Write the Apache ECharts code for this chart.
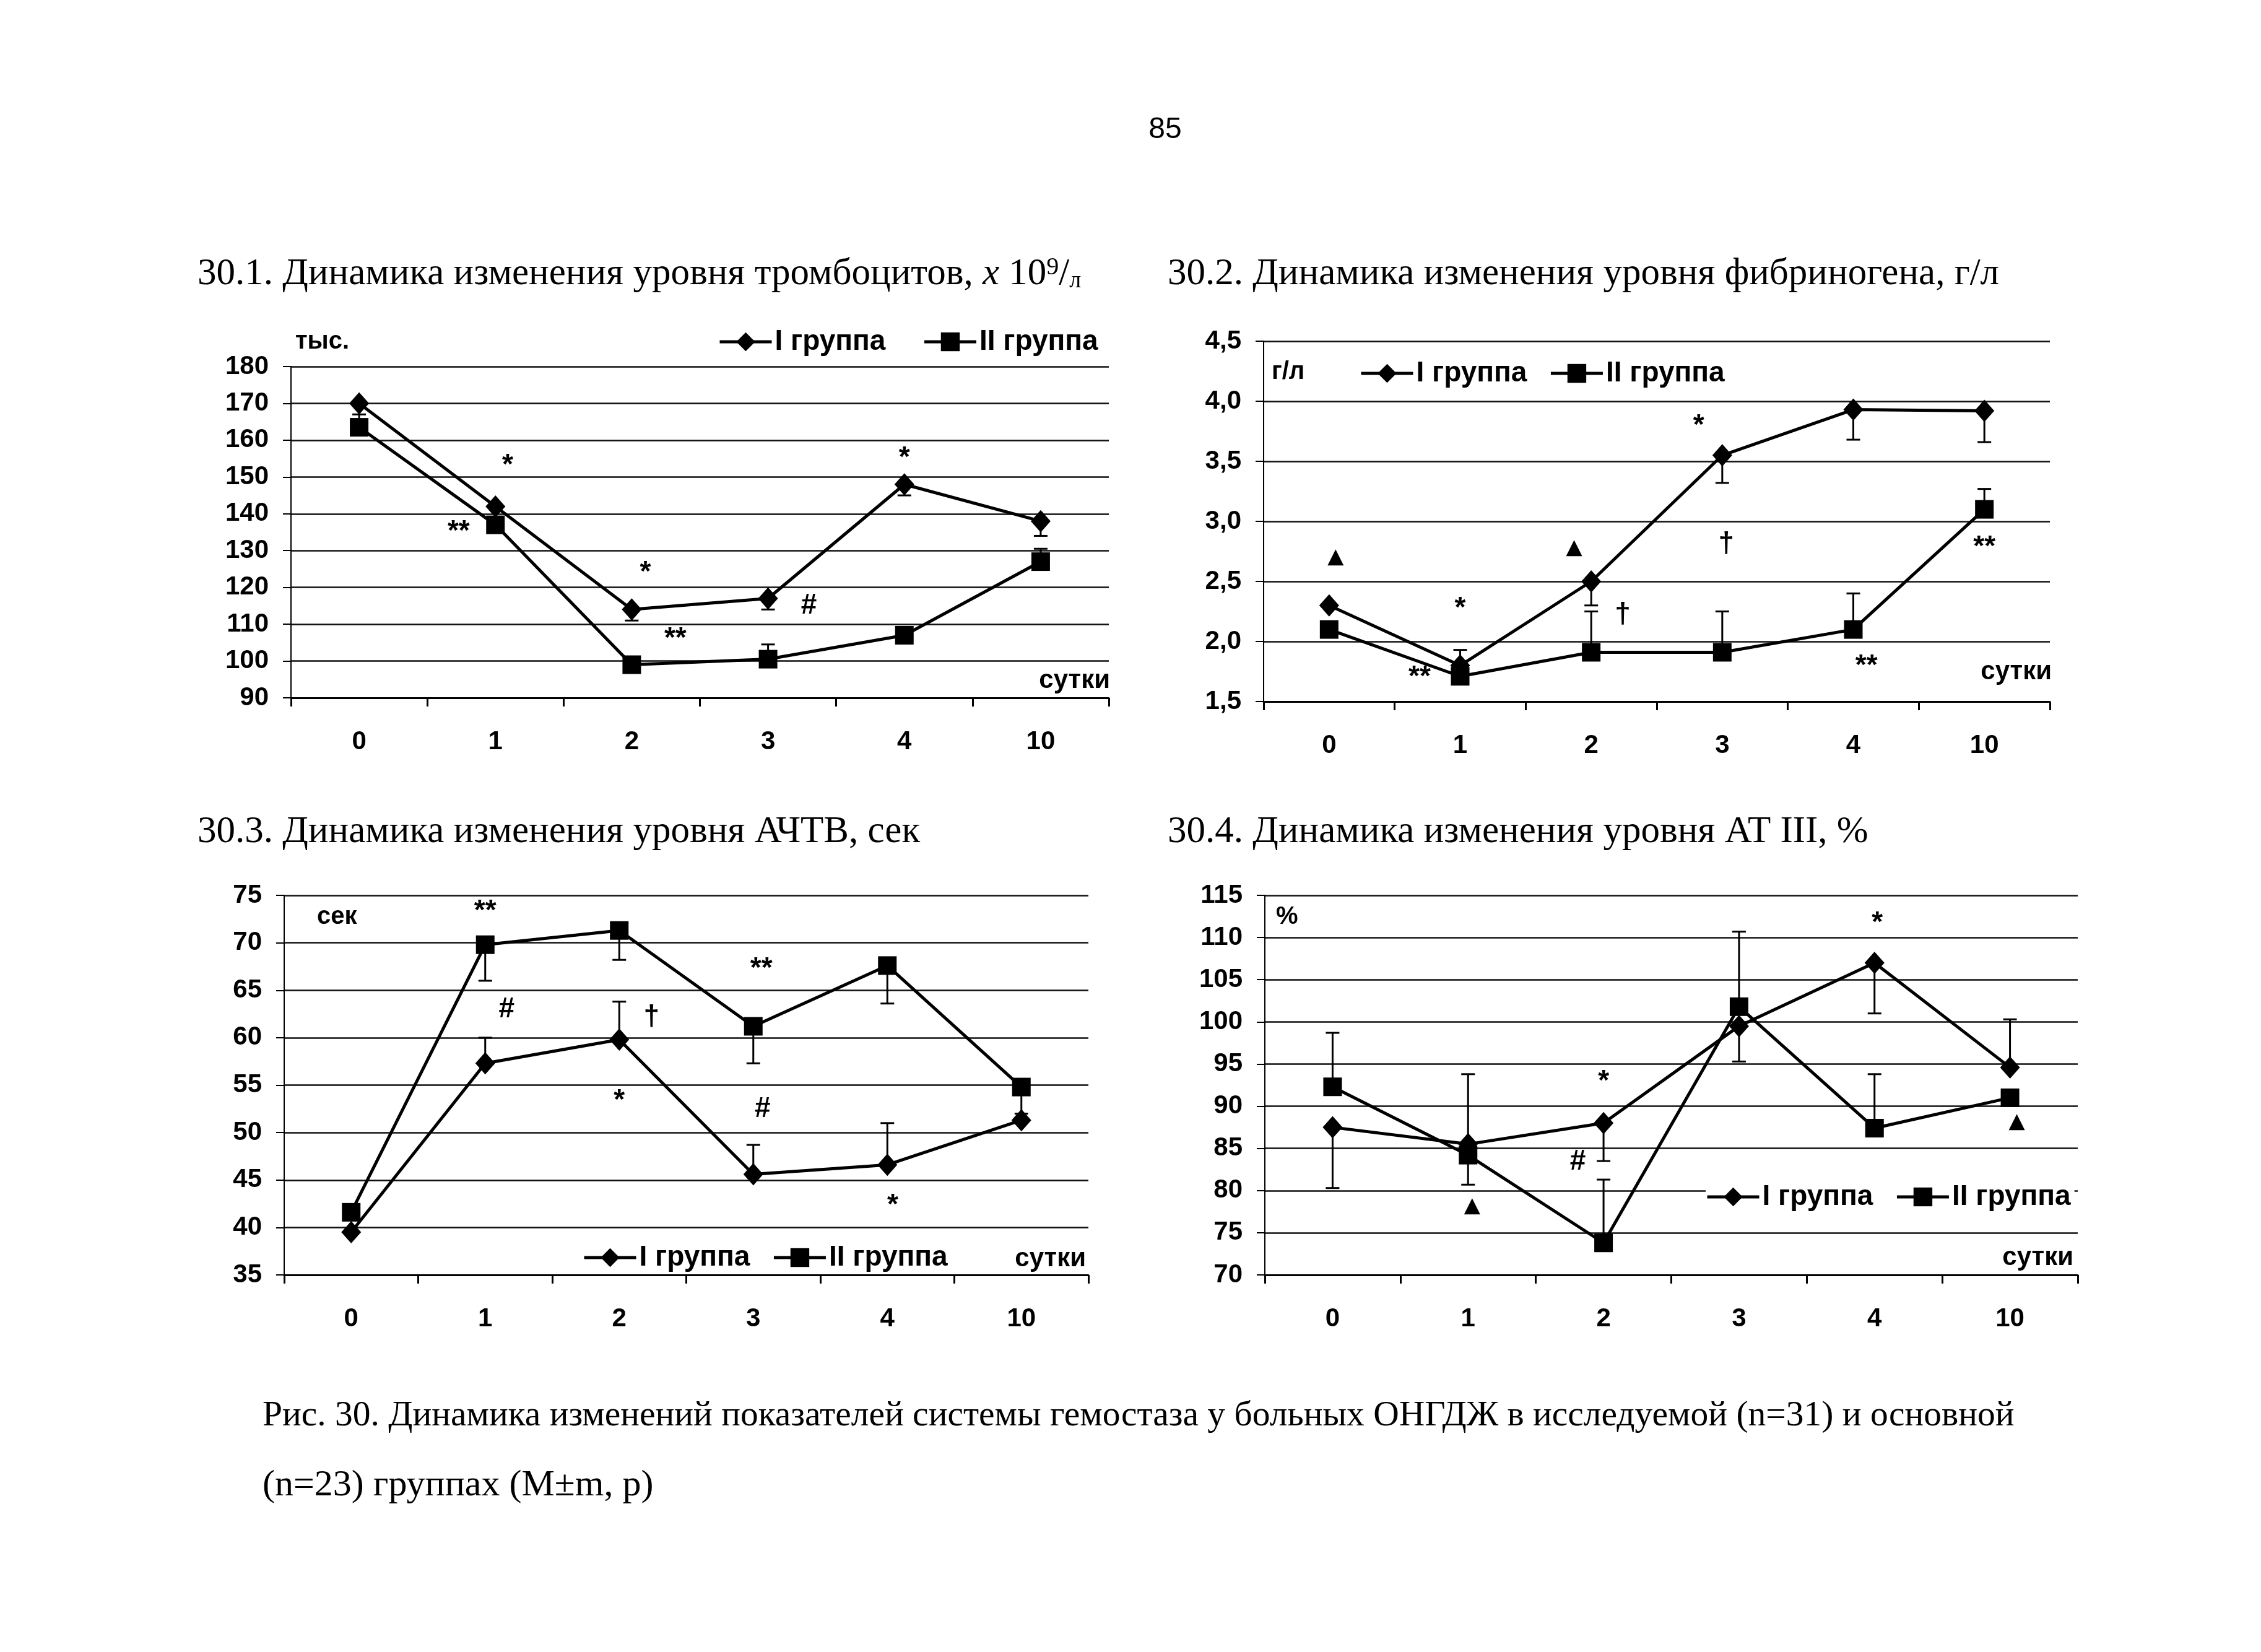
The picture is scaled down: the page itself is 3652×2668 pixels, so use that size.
<!DOCTYPE html>
<html><head><meta charset="utf-8">
<script src="https://cdn.jsdelivr.net/npm/echarts@6/dist/echarts.min.js"></script>
<style>html,body{margin:0;padding:0;background:#fff}#c{width:3652px;height:2668px}</style>
</head><body><div id="c"></div>
<script>
// ---- data ----
const days = ['0', '1', '2', '3', '4', '10'];
const groupNames = ['I группа', 'II группа'];

const plateletsI  = [170, 142, 114, 117, 148, 138];
const plateletsII = [163.5, 137, 99, 100.5, 107, 127];
const fibrinogenI  = [2.3, 1.8, 2.5, 3.55, 3.93, 3.92];
const fibrinogenII = [2.1, 1.71, 1.91, 1.91, 2.1, 3.1];
const apttI  = [39.5, 57.3, 59.8, 45.6, 46.6, 51.3];
const apttII = [41.6, 69.8, 71.3, 61.2, 67.6, 54.8];
const at3I  = [87.5, 85.5, 88, 99.5, 107, 94.6];
const at3II = [92.3, 84.2, 73.8, 101.8, 87.4, 91];

// error bars: [day index, mean, bar end]
const plateletsErr = [[0,163.5,167],[2,114,111],[3,117,114],[4,148,145],[5,138,134],[3,100.5,104.5],[5,127,130.5]];
const fibrinogenErr = [[1,1.8,1.93],[2,2.5,2.3],[3,3.55,3.32],[4,3.93,3.68],[5,3.92,3.66],[2,1.91,2.25],[3,1.91,2.25],[4,2.1,2.4],[5,3.1,3.27]];
const apttErr = [[1,57.3,60],[2,59.8,63.8],[3,45.6,48.7],[4,46.6,51],[1,69.8,66],[2,71.3,68.2],[3,61.2,57.3],[4,67.6,63.6],[5,54.8,52]];
const at3Err = [[0,92.3,98.7],[0,87.5,80.3],[1,85.5,93.8],[1,84.2,80.7],[2,88,83.5],[2,73.8,81.3],[3,101.8,110.7],[3,99.5,95.3],[4,107,101],[4,87.4,93.8],[5,94.6,100.3]];

// significance marks: [day index, value, mark, offset in category widths]
const plateletsMarks = [[1,153,'*',0.09],[1,135,'**',-0.27],[2,124,'*',0.1],[2,106,'**',0.32],[3,115,'#',0.3],[4,155,'*',0]];
const fibrinogenMarks = [[0,2.70,'▲',0.05],[2,2.78,'▲',-0.13],[1,2.27,'*',0],[1,1.70,'**',-0.31],[2,2.22,'†',0.24],[3,3.79,'*',-0.18],[3,2.81,'†',0.03],[4,1.79,'**',0.1],[5,2.78,'**',0]];
const apttMarks = [[1,73.3,'**',0],[1,63,'#',0.16],[2,62.1,'†',0.24],[2,53.3,'*',0],[3,67.2,'**',0.06],[3,52.5,'#',0.07],[4,42.3,'*',0.04]];
const at3Marks = [[2,92.9,'*',0],[2,83.4,'#',-0.19],[1,78.1,'▲',0.03],[4,111.7,'*',0.02],[5,88.1,'▲',0.05]];

// ---- layout ----
const SANS = 'Liberation Sans, Arial, DejaVu Sans';
const SERIF = 'Liberation Serif, Times New Roman, DejaVu Serif';
const grids = [
  {left: 470, top: 592, width: 1321, height: 535},
  {left: 2041, top: 551, width: 1270, height: 582},
  {left: 459, top: 1446, width: 1299, height: 613},
  {left: 2043, top: 1446, width: 1313, height: 613}
];
const yRanges = [
  {min: 90, max: 180, interval: 10},
  {min: 1.5, max: 4.5, interval: 0.5, fmt: v => v.toFixed(1).replace('.', ',')},
  {min: 35, max: 75, interval: 5},
  {min: 70, max: 115, interval: 5}
];
const seriesI = [plateletsI, fibrinogenI, apttI, at3I];
const seriesII = [plateletsII, fibrinogenII, apttII, at3II];
const errs = [plateletsErr, fibrinogenErr, apttErr, at3Err];
const marks = [plateletsMarks, fibrinogenMarks, apttMarks, at3Marks];

const xAxis = grids.map((g, k) => ({
  type: 'category', gridIndex: k, data: days, boundaryGap: true,
  axisLine: {lineStyle: {color: '#000', width: 3}},
  axisTick: {show: true, length: 14, lineStyle: {color: '#000', width: 3}},
  axisLabel: {margin: 50, fontSize: 42, fontWeight: 'bold', color: '#000', fontFamily: SANS},
  splitLine: {show: false}
}));
const yAxis = yRanges.map((r, k) => ({
  type: 'value', gridIndex: k, min: r.min, max: r.max, interval: r.interval,
  axisLine: {show: true, lineStyle: {color: '#000', width: 2}},
  axisTick: {show: true, length: 13, lineStyle: {color: '#000', width: 2}},
  axisLabel: {margin: 36, fontSize: 42, fontWeight: 'bold', color: '#000', fontFamily: SANS,
    formatter: r.fmt ? r.fmt : (v => String(v))},
  splitLine: {show: true, lineStyle: {color: '#111', width: 2.5}}
}));

const series = [];
grids.forEach((g, k) => {
  series.push({
    type: 'line', name: groupNames[0], xAxisIndex: k, yAxisIndex: k, data: seriesI[k],
    symbol: 'diamond', symbolSize: [32, 36], z: 4,
    lineStyle: {color: '#000', width: 5}, itemStyle: {color: '#000'}
  });
  series.push({
    type: 'line', name: groupNames[1], xAxisIndex: k, yAxisIndex: k, data: seriesII[k],
    symbol: 'rect', symbolSize: 30, z: 4,
    lineStyle: {color: '#000', width: 5}, itemStyle: {color: '#000'}
  });
  series.push({
    type: 'custom', xAxisIndex: k, yAxisIndex: k, z: 3, clip: false, silent: true,
    data: errs[k],
    renderItem: (params, api) => {
      const a = api.coord([api.value(0), api.value(1)]);
      const b = api.coord([api.value(0), api.value(2)]);
      const st = {stroke: '#000', lineWidth: 3};
      return {type: 'group', children: [
        {type: 'line', shape: {x1: a[0], y1: a[1], x2: b[0], y2: b[1]}, style: st},
        {type: 'line', shape: {x1: b[0] - 11, y1: b[1], x2: b[0] + 11, y2: b[1]}, style: st}
      ]};
    }
  });
  const mk = marks[k];
  series.push({
    type: 'custom', xAxisIndex: k, yAxisIndex: k, z: 5, clip: false, silent: true,
    data: mk.map(m => [m[0], m[1]]),
    renderItem: (params, api) => {
      const m = mk[params.dataIndex];
      const p = api.coord([api.value(0), api.value(1)]);
      const bw = api.size([1, 0])[0];
      const tri = m[2] === '▲';
      return {type: 'text', style: {
        text: m[2], x: p[0] + m[3] * bw, y: p[1], align: 'center', verticalAlign: 'middle',
        fontSize: tri ? 34 : 46, fontWeight: 'bold', fontFamily: tri ? 'DejaVu Sans' : SANS, fill: '#000'
      }};
    }
  });
});

const legendBase = {
  data: groupNames, orient: 'horizontal', itemWidth: 84, itemHeight: 38, itemGap: 36,
  textStyle: {fontSize: 46, fontWeight: 'bold', color: '#000', fontFamily: SANS},
  lineStyle: {width: 5, color: '#000'}, itemStyle: {color: '#000'},
  selectedMode: false, padding: 0
};
const legend = [
  Object.assign({}, legendBase, {left: 1160, top: 529, itemGap: 60}),
  Object.assign({}, legendBase, {left: 2196, top: 580}),
  Object.assign({}, legendBase, {left: 941, top: 2008}),
  Object.assign({}, legendBase, {left: 2755, top: 1910, backgroundColor: '#fff', padding: [0, 6, 0, 0]})
];

function t(text, x, y, opts) {
  return {type: 'text', z: 10, style: Object.assign({
    text: text, x: x, y: y, fill: '#000', fontFamily: SANS, fontSize: 40, fontWeight: 'bold',
    align: 'left', verticalAlign: 'middle'
  }, opts || {})};
}
const titleStyle = {fontFamily: SERIF, fontWeight: 'normal', fontSize: 61};
const graphic = [
  t('85', 1882, 210, {fontFamily: SANS, fontWeight: 'normal', fontSize: 48, align: 'center'}),
  {type: 'text', z: 10, style: {
    text: '30.1. Динамика изменения уровня тромбоцитов, {i|x} 10{sup|9}/{sub|л}',
    x: 319, y: 443, fill: '#000', fontFamily: SERIF, fontSize: 61, verticalAlign: 'middle',
    rich: {
      i: {fontFamily: SERIF, fontStyle: 'italic', fontSize: 61},
      sup: {fontFamily: SERIF, fontSize: 40, verticalAlign: 'top', lineHeight: 40},
      sub: {fontFamily: SERIF, fontSize: 38, verticalAlign: 'bottom', lineHeight: 30}
    }
  }},
  t('30.2. Динамика изменения уровня фибриногена, г/л', 1886, 443, titleStyle),
  t('30.3. Динамика изменения уровня АЧТВ, сек', 319, 1344, titleStyle),
  t('30.4. Динамика изменения уровня AT III, %', 1886, 1344, titleStyle),
  t('тыс.', 477, 552),
  t('г/л', 2054, 601),
  t('сек', 512, 1481),
  t('%', 2061, 1481),
  t('сутки', 1793, 1099, {align: 'right', fontSize: 42}),
  t('сутки', 3314, 1085, {align: 'right', fontSize: 42}),
  t('сутки', 1754, 2033, {align: 'right', fontSize: 42}),
  t('сутки', 3349, 2031, {align: 'right', fontSize: 42}),
  t('Рис. 30. Динамика изменений показателей системы гемостаза у больных ОНГДЖ в исследуемой (n=31) и основной', 424, 2287, {fontFamily: SERIF, fontWeight: 'normal', fontSize: 57.5}),
  t('(n=23) группах (M±m, p)', 424, 2399, {fontFamily: SERIF, fontWeight: 'normal', fontSize: 60})
];

const chart = echarts.init(document.getElementById('c'), null, {renderer: 'canvas'});
chart.setOption({
  animation: false,
  backgroundColor: '#fff',
  grid: grids.map(g => Object.assign({containLabel: false}, g)),
  xAxis: xAxis, yAxis: yAxis, series: series, legend: legend, graphic: graphic
});
</script></body></html>
